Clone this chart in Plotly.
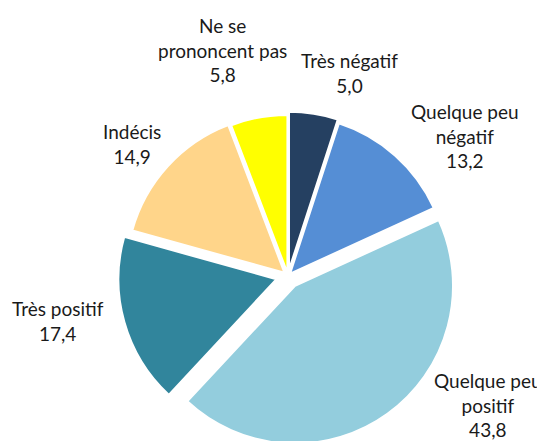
import plotly.graph_objects as go

labels = ["Très négatif", "Quelque peu négatif", "Quelque peu positif",
          "Très positif", "Indécis", "Ne se prononcent pas"]
label_text = ["Très négatif", "Quelque peu<br>négatif", "Quelque peu<br>positif",
              "Très positif", "Indécis", "Ne se<br>prononcent pas"]
values = [5.0, 13.2, 43.8, 17.4, 14.9, 5.8]
value_text = ["5,0", "13,2", "43,8", "17,4", "14,9", "5,8"]

colors = ["#254061", "#558ED5", "#93CDDD", "#31859C", "#FFD58A", "#FFFF00"]
pulls = [0.04, 0.02, 0.076, 0.076, 0.03, 0.02]

# page offset of the figure (browser body margin)
OFF = 8
# label centre positions in page pixels (x, y from top)
label_pos = [(349, 73), (465, 136), (488, 405), (58, 321), (132, 144), (222, 50)]

W, H = 545, 441
cx, cy, r = 288 - OFF, 276 - OFF, 158
half = r * (1 + max(pulls))
box_l, box_r, box_t, box_b = cx - half, cx + half, cy - half, cy + half

fig = go.Figure(go.Pie(
    labels=labels,
    values=values,
    sort=False,
    direction="clockwise",
    rotation=0,
    pull=pulls,
    marker=dict(colors=colors, line=dict(color="white", width=2)),
    textinfo="none",
    hoverinfo="label+value",
    showlegend=False,
    domain=dict(x=[box_l / W, box_r / W], y=[1 - box_b / H, 1 - box_t / H]),
))

for (px, py), lt, vt in zip(label_pos, label_text, value_text):
    fig.add_annotation(
        x=(px - OFF) / W, y=1 - (py - OFF) / H, xref="paper", yref="paper",
        text=f"{lt}<br>{vt}", showarrow=False,
        xanchor="center", yanchor="middle", align="center",
        font=dict(family="Lato, sans-serif", size=19, color="#1a1a1a"),
    )

fig.update_layout(
    width=W, height=H,
    margin=dict(l=0, r=0, t=0, b=0),
    paper_bgcolor="white", plot_bgcolor="white",
)

fig.write_html("out.html")
